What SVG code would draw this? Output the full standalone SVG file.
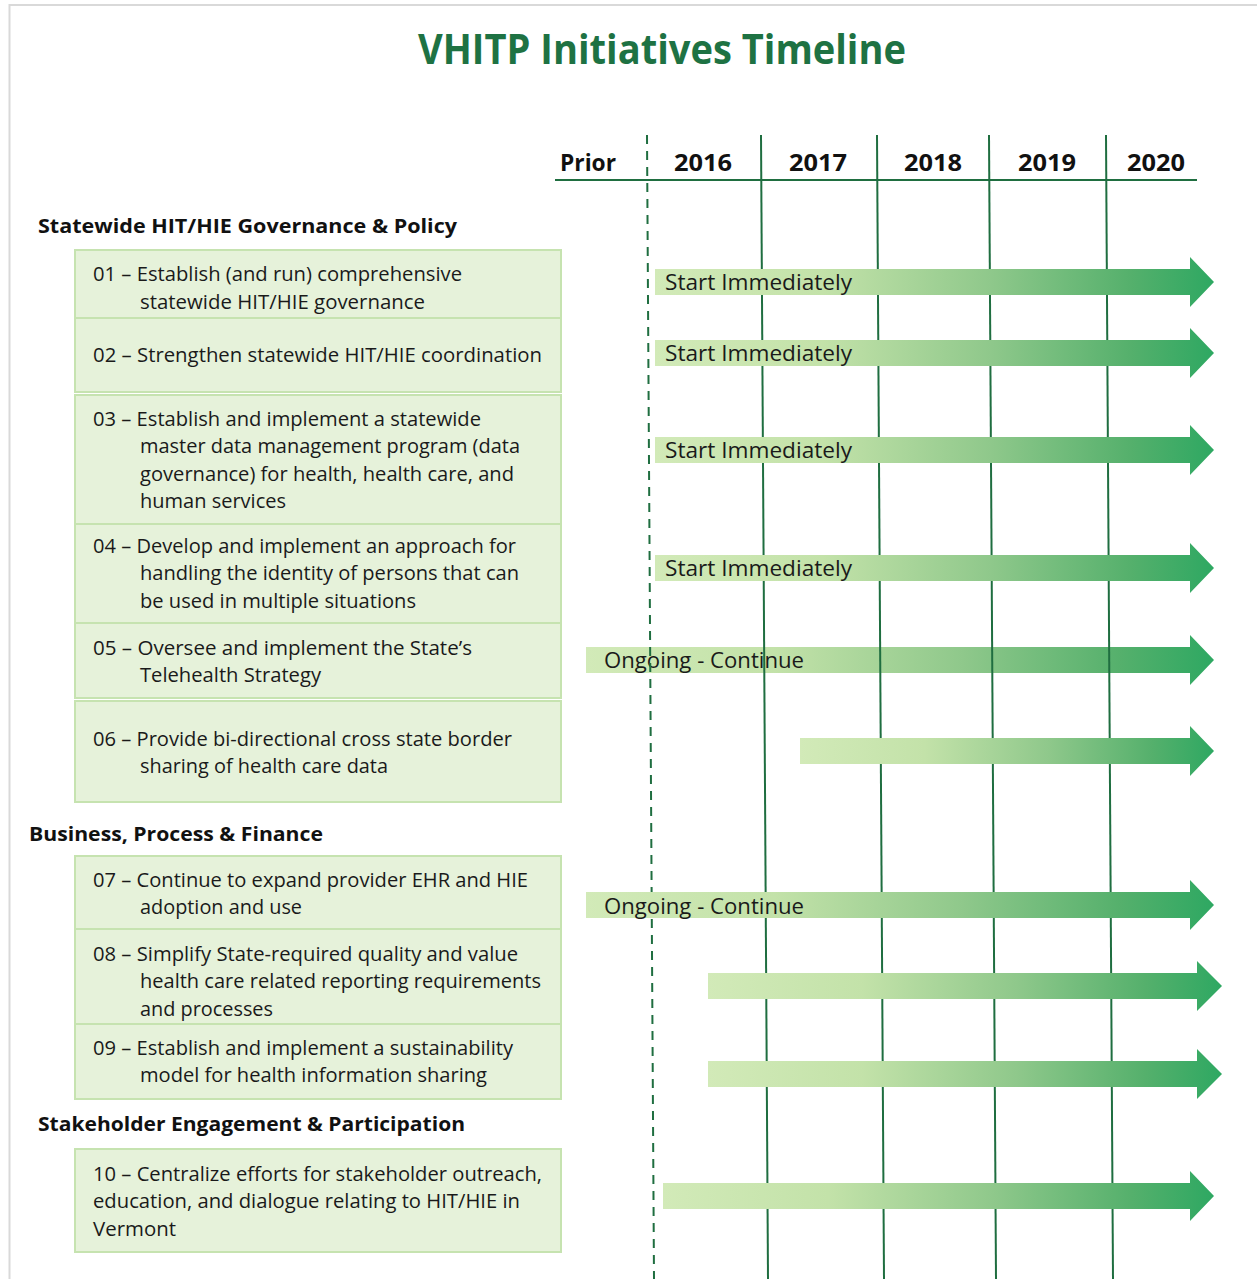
<svg xmlns="http://www.w3.org/2000/svg" width="1257" height="1279" viewBox="0 0 1257 1279">
<defs>
<linearGradient id="g" x1="0" y1="0" x2="1" y2="0">
<stop offset="0" stop-color="#d2eab8"/>
<stop offset="0.3" stop-color="#c3e2a9"/>
<stop offset="0.6" stop-color="#8fc88b"/>
<stop offset="0.85" stop-color="#55b06c"/>
<stop offset="1" stop-color="#2ea862"/>
</linearGradient>
<style>
.title{font-family:"Open Sans","Liberation Sans",sans-serif;font-weight:bold;font-size:42px;fill:#1e7243}
.yr{font-family:"Open Sans","Liberation Sans",sans-serif;font-weight:bold;font-size:23px;fill:#111}
.sec{font-family:"Open Sans","Liberation Sans",sans-serif;font-weight:bold;font-size:20px;fill:#111}
.t{font-family:"Open Sans","Liberation Sans",sans-serif;font-size:19.5px;fill:#1a1a1a}
.lab{font-family:"Open Sans","Liberation Sans",sans-serif;font-size:21px;fill:#1a1a1a}
.box{fill:#e6f2da;stroke:#c6e3b0;stroke-width:2}
.arr{fill:url(#g)}
.vl{stroke:#1f6e40;stroke-width:2;fill:none}
.dl{stroke:#1f6e40;stroke-width:2;fill:none;stroke-dasharray:9 7}
</style>
</defs>
<rect x="0" y="0" width="1257" height="1279" fill="#fff"/>
<rect x="9.5" y="5" width="1260" height="1290" fill="none" stroke="#d9d9d9" stroke-width="2"/>
<text class="title" x="418" y="64" textLength="488" lengthAdjust="spacingAndGlyphs">VHITP Initiatives Timeline</text>

<g id="header">
<text class="yr" x="560" y="171" textLength="56" lengthAdjust="spacingAndGlyphs">Prior</text>
<text class="yr" x="674" y="171" textLength="58" lengthAdjust="spacingAndGlyphs">2016</text>
<text class="yr" x="789" y="171" textLength="58" lengthAdjust="spacingAndGlyphs">2017</text>
<text class="yr" x="904" y="171" textLength="58" lengthAdjust="spacingAndGlyphs">2018</text>
<text class="yr" x="1018" y="171" textLength="58" lengthAdjust="spacingAndGlyphs">2019</text>
<text class="yr" x="1127" y="171" textLength="58" lengthAdjust="spacingAndGlyphs">2020</text>
<line x1="555" y1="180" x2="1197" y2="180" class="vl"/>
</g>

<text class="sec" x="38" y="233" textLength="419" lengthAdjust="spacingAndGlyphs">Statewide HIT/HIE Governance &amp; Policy</text>
<text class="sec" x="29" y="841" textLength="294" lengthAdjust="spacingAndGlyphs">Business, Process &amp; Finance</text>
<text class="sec" x="38" y="1131" textLength="427" lengthAdjust="spacingAndGlyphs">Stakeholder Engagement &amp; Participation</text>

<g id="item01"><rect class="box" x="75" y="250" width="486" height="68"/>
<text class="t" x="93" y="281" textLength="369" lengthAdjust="spacingAndGlyphs">01 – Establish (and run) comprehensive</text>
<text class="t" x="140" y="309" textLength="285" lengthAdjust="spacingAndGlyphs">statewide HIT/HIE governance</text></g>
<g id="item02"><rect class="box" x="75" y="318" width="486" height="74"/>
<text class="t" x="93" y="362" textLength="449" lengthAdjust="spacingAndGlyphs">02 – Strengthen statewide HIT/HIE coordination</text></g>
<g id="item03"><rect class="box" x="75" y="395" width="486" height="129"/>
<text class="t" x="93" y="426" textLength="388" lengthAdjust="spacingAndGlyphs">03 – Establish and implement  a statewide</text>
<text class="t" x="140" y="453" textLength="380" lengthAdjust="spacingAndGlyphs">master data management program (data</text>
<text class="t" x="140" y="481" textLength="374" lengthAdjust="spacingAndGlyphs">governance) for health, health care, and</text>
<text class="t" x="140" y="508" textLength="146" lengthAdjust="spacingAndGlyphs">human services</text></g>
<g id="item04"><rect class="box" x="75" y="524" width="486" height="99"/>
<text class="t" x="93" y="553" textLength="423" lengthAdjust="spacingAndGlyphs">04 – Develop and implement  an approach for</text>
<text class="t" x="140" y="580" textLength="379" lengthAdjust="spacingAndGlyphs">handling the identity of persons that can</text>
<text class="t" x="140" y="608" textLength="276" lengthAdjust="spacingAndGlyphs">be used in multiple situations</text></g>
<g id="item05"><rect class="box" x="75" y="623" width="486" height="75"/>
<text class="t" x="93" y="655" textLength="379" lengthAdjust="spacingAndGlyphs">05 – Oversee and implement  the  State’s</text>
<text class="t" x="140" y="682" textLength="181" lengthAdjust="spacingAndGlyphs">Telehealth Strategy</text></g>
<g id="item06"><rect class="box" x="75" y="701" width="486" height="101"/>
<text class="t" x="93" y="746" textLength="419" lengthAdjust="spacingAndGlyphs">06 – Provide bi-directional cross state border</text>
<text class="t" x="140" y="773" textLength="248" lengthAdjust="spacingAndGlyphs">sharing of health care data</text></g>
<g id="item07"><rect class="box" x="75" y="856" width="486" height="73"/>
<text class="t" x="93" y="887" textLength="435" lengthAdjust="spacingAndGlyphs">07 – Continue to expand provider EHR and HIE</text>
<text class="t" x="140" y="914" textLength="162" lengthAdjust="spacingAndGlyphs">adoption and use</text></g>
<g id="item08"><rect class="box" x="75" y="929" width="486" height="95"/>
<text class="t" x="93" y="961" textLength="425" lengthAdjust="spacingAndGlyphs">08 – Simplify State-required quality and value</text>
<text class="t" x="140" y="988" textLength="401" lengthAdjust="spacingAndGlyphs">health care related reporting requirements</text>
<text class="t" x="140" y="1016" textLength="133" lengthAdjust="spacingAndGlyphs">and processes</text></g>
<g id="item09"><rect class="box" x="75" y="1024" width="486" height="75"/>
<text class="t" x="93" y="1055" textLength="420" lengthAdjust="spacingAndGlyphs">09 – Establish and implement  a sustainability</text>
<text class="t" x="140" y="1082" textLength="347" lengthAdjust="spacingAndGlyphs">model for health information sharing</text></g>
<g id="item10"><rect class="box" x="75" y="1149" width="486" height="103"/>
<text class="t" x="93" y="1181" textLength="449" lengthAdjust="spacingAndGlyphs">10 – Centralize efforts for stakeholder outreach,</text>
<text class="t" x="93" y="1208" textLength="427" lengthAdjust="spacingAndGlyphs">education, and dialogue relating to HIT/HIE in</text>
<text class="t" x="93" y="1236" textLength="83" lengthAdjust="spacingAndGlyphs">Vermont</text></g>

<g id="bar05"><path class="arr" d="M586,647 H1190 V635 L1214,660 L1190,685 V673 H586 Z"/>
<text class="lab" x="604" y="668" textLength="200" lengthAdjust="spacingAndGlyphs">Ongoing - Continue</text></g>

<g id="connectors">
<line class="dl" x1="647" y1="135" x2="654" y2="1279"/>
<line class="vl" x1="761" y1="135" x2="768" y2="1279"/>
<line class="vl" x1="877" y1="135" x2="884" y2="1279"/>
<line class="vl" x1="989" y1="135" x2="996" y2="1279"/>
<line class="vl" x1="1106" y1="135" x2="1113" y2="1279"/>
</g>

<g id="bar01"><path class="arr" d="M655,269 H1190 V257 L1214,282 L1190,307 V295 H655 Z"/>
<text class="lab" x="665" y="290" textLength="187" lengthAdjust="spacingAndGlyphs">Start Immediately</text></g>
<g id="bar02"><path class="arr" d="M655,340 H1190 V328 L1214,353 L1190,378 V366 H655 Z"/>
<text class="lab" x="665" y="361" textLength="187" lengthAdjust="spacingAndGlyphs">Start Immediately</text></g>
<g id="bar03"><path class="arr" d="M655,437 H1190 V425 L1214,450 L1190,475 V463 H655 Z"/>
<text class="lab" x="665" y="458" textLength="187" lengthAdjust="spacingAndGlyphs">Start Immediately</text></g>
<g id="bar04"><path class="arr" d="M655,555 H1190 V543 L1214,568 L1190,593 V581 H655 Z"/>
<text class="lab" x="665" y="576" textLength="187" lengthAdjust="spacingAndGlyphs">Start Immediately</text></g>
<g id="bar06"><path class="arr" d="M800,738 H1190 V726 L1214,751 L1190,776 V764 H800 Z"/></g>
<g id="bar07"><path class="arr" d="M586,892 H1190 V880 L1214,905 L1190,930 V918 H586 Z"/>
<text class="lab" x="604" y="914" textLength="200" lengthAdjust="spacingAndGlyphs">Ongoing - Continue</text></g>
<g id="bar08"><path class="arr" d="M708,973 H1197 V961 L1222,986 L1197,1011 V999 H708 Z"/></g>
<g id="bar09"><path class="arr" d="M708,1061 H1197 V1049 L1222,1074 L1197,1099 V1087 H708 Z"/></g>
<g id="bar10"><path class="arr" d="M663,1183 H1190 V1171 L1214,1196 L1190,1221 V1209 H663 Z"/></g>
</svg>
